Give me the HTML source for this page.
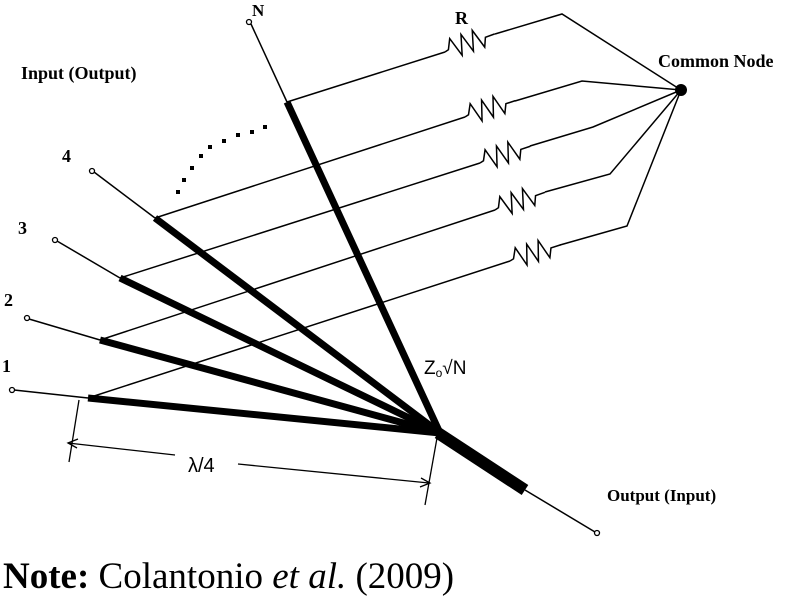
<!DOCTYPE html>
<html><head><style>
html,body{margin:0;padding:0;background:#fff;}
svg{display:block;}
.b{font-family:"Liberation Serif",serif;font-weight:bold;}
</style></head><body>
<svg width="800" height="596" viewBox="0 0 800 596" xmlns="http://www.w3.org/2000/svg">
<defs>
<path id="rz" d="M0,0 L4,-1 L9,-11 L15,9 L21,-11 L27,9 L33,-11 L39,9 L43,0 L53,0"/>
</defs>
<g stroke="#000" fill="none" stroke-linecap="butt">
<g stroke-width="1.5">
<line x1="14" y1="390" x2="88" y2="398"/>
<line x1="29" y1="319" x2="100" y2="340"/>
<line x1="57" y1="241" x2="120" y2="278"/>
<line x1="94" y1="172" x2="155" y2="218"/>
<line x1="251" y1="24" x2="287" y2="102"/>
<line x1="525" y1="490" x2="595" y2="532"/>
</g>
<g stroke-width="7">
<line x1="88" y1="398" x2="440" y2="433"/>
<line x1="100" y1="340" x2="440" y2="433"/>
<line x1="120" y1="278" x2="440" y2="433"/>
<line x1="155" y1="218" x2="440" y2="433"/>
<line x1="287" y1="102" x2="440" y2="433"/>
</g>
<line x1="438" y1="433" x2="525" y2="490" stroke-width="12"/>
<g fill="#fff" stroke-width="1.3">
<circle cx="12" cy="390" r="2.5"/>
<circle cx="27" cy="318" r="2.5"/>
<circle cx="55" cy="240" r="2.5"/>
<circle cx="92" cy="171" r="2.5"/>
<circle cx="249" cy="22" r="2.5"/>
<circle cx="597" cy="533" r="2.5"/>
</g>
<g stroke-width="1.5" stroke-linejoin="miter">
<polyline points="287,102 445,52"/>
<use href="#rz" transform="translate(445,52) rotate(-20)"/>
<polyline points="495,34 562,14 681,90"/>
<polyline points="155,218 465,117"/>
<use href="#rz" transform="translate(465,117) rotate(-18)"/>
<polyline points="515,101 582,81 681,90"/>
<polyline points="120,278 480,163"/>
<use href="#rz" transform="translate(480,163) rotate(-18.4)"/>
<polyline points="530,146 593,127 681,90"/>
<polyline points="100,340 495,210"/>
<use href="#rz" transform="translate(495,210) rotate(-19.5)"/>
<polyline points="545,192 610,174 681,90"/>
<polyline points="88,398 510,261"/>
<use href="#rz" transform="translate(510,261) rotate(-17.7)"/>
<polyline points="560,245 627,226 681,90"/>
</g>
<g stroke-width="1.3">
<line x1="79" y1="400" x2="69" y2="462"/>
<line x1="437" y1="438" x2="425" y2="505"/>
<line x1="68" y1="443" x2="175" y2="455"/>
<polyline points="78,439 68,443 77,448"/>
<line x1="238" y1="464" x2="429" y2="483"/>
<polyline points="421,478 430,483 420,487"/>
</g>
</g>
<circle cx="681" cy="90" r="6" fill="#000"/>
<g fill="#000">
<rect x="176" y="190" width="4" height="4"/><rect x="182" y="178" width="4" height="4"/>
<rect x="190" y="166" width="4" height="4"/><rect x="199" y="154" width="4" height="4"/>
<rect x="208" y="145" width="4" height="4"/><rect x="222" y="139" width="4" height="4"/>
<rect x="236" y="133" width="4" height="4"/><rect x="250" y="130" width="4" height="4"/>
<rect x="263" y="125" width="4" height="4"/>
</g>
<g class="b" font-size="18" fill="#000">
<text x="252" y="16" font-size="17">N</text>
<text x="455" y="24">R</text>
<text x="658" y="67">Common Node</text>
<text x="21" y="79">Input (Output)</text>
<text x="62" y="162">4</text>
<text x="18" y="234">3</text>
<text x="4" y="306">2</text>
<text x="2" y="372">1</text>
<text x="607" y="501" font-size="17">Output (Input)</text>
</g>
<text x="424" y="374" font-family="Liberation Sans,sans-serif" font-size="19" fill="#000">Z<tspan font-size="12" dy="3">o</tspan><tspan dy="-3">√N</tspan></text>
<text x="188" y="472" font-family="Liberation Sans,sans-serif" font-size="20" fill="#000">λ/4</text>
<text x="3" y="588" font-family="Liberation Serif,serif" font-size="37" fill="#000"><tspan font-weight="bold">Note:</tspan> Colantonio <tspan font-style="italic">et al.</tspan> (2009)</text>
</svg>
</body></html>
